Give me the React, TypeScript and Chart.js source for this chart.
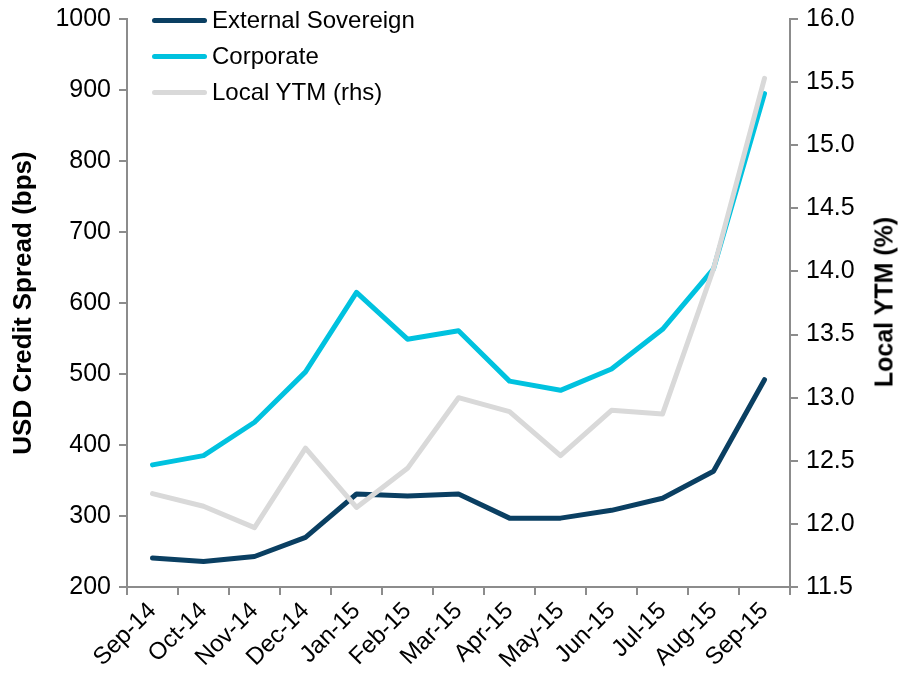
import React, { useEffect, useRef } from "react";
import { Chart, registerables } from "chart.js";

Chart.register(...registerables);

const categories = ["Sep-14","Oct-14","Nov-14","Dec-14","Jan-15","Feb-15","Mar-15","Apr-15","May-15","Jun-15","Jul-15","Aug-15","Sep-15"];
const externalSovereign = [241, 236, 243, 270, 331, 328, 331, 297, 297, 308, 325, 363, 492];
const corporate = [372, 385, 432, 503, 615, 549, 561, 490, 477, 507, 563, 648, 895];
const localYTM = [12.24, 12.14, 11.97, 12.6, 12.13, 12.44, 13.0, 12.89, 12.54, 12.9, 12.87, 14.02, 15.53];

const seriesNames = ["External Sovereign", "Corporate", "Local YTM (rhs)"];
const seriesColors = ["#0A3F62", "#00C2DF", "#D9D9D9"];

const FONT = "'Liberation Sans', Arial, sans-serif";
const AXIS_COLOR = "#8C8C8C";

export default function App() {
  const ref = useRef<HTMLCanvasElement | null>(null);
  useEffect(() => {
    if (!ref.current) return;
    const chart = new Chart(ref.current, {
      type: "line",
      data: {
        labels: categories,
        datasets: [
          { label: seriesNames[0], data: externalSovereign, borderColor: seriesColors[0], backgroundColor: seriesColors[0], yAxisID: "y", order: 2 },
          { label: seriesNames[1], data: corporate, borderColor: seriesColors[1], backgroundColor: seriesColors[1], yAxisID: "y", order: 1 },
          { label: seriesNames[2], data: localYTM, borderColor: seriesColors[2], backgroundColor: seriesColors[2], yAxisID: "y1", order: 0 },
        ].map((d) => ({ ...d, borderWidth: 5, pointRadius: 0, tension: 0, borderCapStyle: "round" as const, borderJoinStyle: "round" as const, fill: false })),
      },
      options: {
        animation: false,
        responsive: false,
        layout: { padding: { top: 19, left: 0, right: 0, bottom: 0 } },
        plugins: { legend: { display: false }, tooltip: { enabled: false } },
        scales: {
          x: {
            type: "category",
            offset: true,
            grid: { display: true, drawOnChartArea: false, drawTicks: true, tickLength: 8, color: AXIS_COLOR, lineWidth: 2, offset: true },
            border: { display: true, color: AXIS_COLOR, width: 2 },
            ticks: { maxRotation: 45, minRotation: 45, autoSkip: false, color: "#000", font: { family: FONT, size: 24 }, padding: 2 },
            afterFit: (s: any) => { s.height = 94; s.paddingLeft = 0; s.paddingRight = 0; },
          },
          y: {
            position: "left",
            min: 200,
            max: 1000,
            ticks: { stepSize: 100, color: "#000", font: { family: FONT, size: 25 }, padding: 8, callback: (v: any) => String(v) },
            grid: { display: true, drawOnChartArea: false, drawTicks: true, tickLength: 8, color: AXIS_COLOR, lineWidth: 2 },
            border: { display: true, color: AXIS_COLOR, width: 2 },
            title: { display: true, text: "USD Credit Spread (bps)", color: "#000", font: { family: FONT, size: 26, weight: "bold" }, padding: { top: 8, bottom: 0 } },
            afterFit: (s: any) => { s.width = 127; s.paddingTop = 0; s.paddingBottom = 0; },
          },
          y1: {
            position: "right",
            min: 11.5,
            max: 16,
            ticks: { stepSize: 0.5, color: "#000", font: { family: FONT, size: 25 }, padding: 8, callback: (v: any) => Number(v).toFixed(1) },
            grid: { display: true, drawOnChartArea: false, drawTicks: true, tickLength: 8, color: AXIS_COLOR, lineWidth: 2 },
            border: { display: true, color: AXIS_COLOR, width: 2 },
            afterFit: (s: any) => { s.width = 114; s.paddingTop = 0; s.paddingBottom = 0; },
          },
        },
      },
    });
    return () => chart.destroy();
  }, []);

  return (
    <div style={{ position: "fixed", left: 0, top: 0, width: 904, height: 681, background: "#fff" }}>
      <canvas ref={ref} width={904} height={681} style={{ position: "absolute", left: 0, top: 0 }} />
      {seriesNames.map((name, i) => (
        <div key={name} style={{ position: "absolute", left: 152, top: 20 + i * 36 - 15, height: 30, display: "flex", alignItems: "center", fontFamily: FONT, fontSize: 24, color: "#000", whiteSpace: "nowrap" }}>
          <span style={{ display: "inline-block", width: 55, height: 5, borderRadius: 3, background: seriesColors[i], marginRight: 5 }} />
          <span>{name}</span>
        </div>
      ))}
      <div style={{ position: "absolute", left: 884, top: 302, transform: "translate(-50%, -50%) rotate(-90deg)", fontFamily: FONT, fontSize: 25, fontWeight: "bold", color: "#000", whiteSpace: "nowrap" }}>
        Local YTM (%)
      </div>
    </div>
  );
}
